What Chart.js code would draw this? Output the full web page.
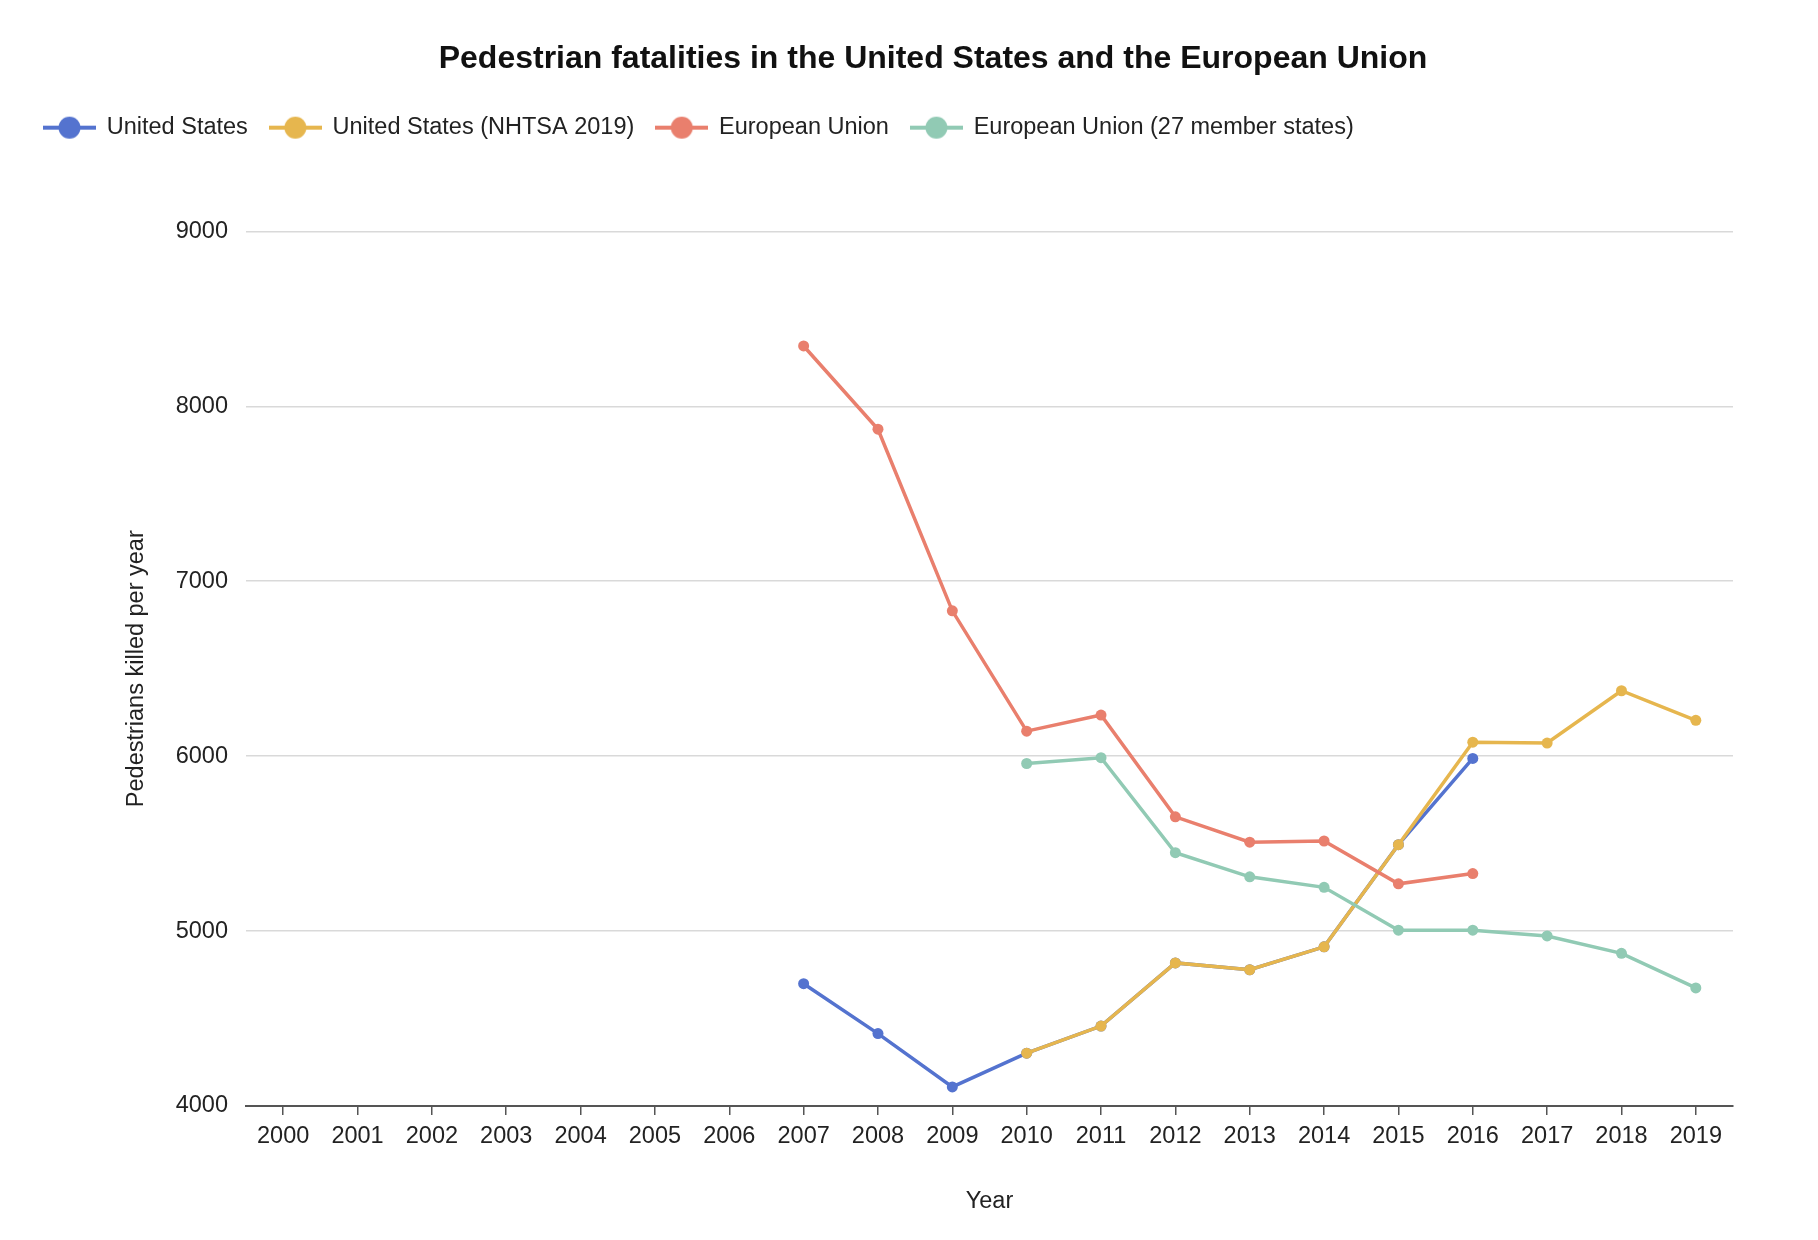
<!DOCTYPE html>
<html>
<head>
<meta charset="utf-8">
<title>Pedestrian fatalities</title>
<script src="https://cdn.jsdelivr.net/npm/chart.js@4"></script>
<style>
  html, body { margin: 0; padding: 0; background: #fff; }
  #wrap { width: 1818px; height: 1240px; position: relative; }
</style>
</head>
<body>
<div id="wrap"><canvas id="chart"></canvas></div>
<script>
const years = ['2000', '2001', '2002', '2003', '2004', '2005', '2006', '2007', '2008', '2009',
  '2010', '2011', '2012', '2013', '2014', '2015', '2016', '2017', '2018', '2019'];

const unitedStates = [null, null, null, null, null, null, null,
  4699, 4414, 4109, 4302, 4457, 4818, 4779, 4910, 5494, 5987, null, null, null];
const unitedStatesNhtsa = [null, null, null, null, null, null, null, null, null, null,
  4302, 4457, 4818, 4779, 4910, 5494, 6080, 6075, 6374, 6205];
const europeanUnion = [null, null, null, null, null, null, null,
  8345, 7869, 6831, 6143, 6235, 5653, 5508, 5515, 5270, 5329, null, null, null];
const europeanUnion27 = [null, null, null, null, null, null, null, null, null, null,
  5958, 5991, 5448, 5310, 5250, 5005, 5005, 4972, 4873, 4675];

const yTicks = { min: 4000, max: 9000, step: 1000 };

const colors = ['#5473cf', '#e6b64e', '#e97f6d', '#91cab4'];
const font = "'Liberation Sans', Arial, Helvetica, sans-serif";

// legend marker: short line with a dot in the middle
function legendMarker(color) {
  const c = document.createElement('canvas');
  c.width = 53;
  c.height = 24;
  const g = c.getContext('2d');
  g.strokeStyle = color;
  g.lineWidth = 4;
  g.beginPath();
  g.moveTo(0, 12);
  g.lineTo(53, 12);
  g.stroke();
  g.fillStyle = color;
  g.beginPath();
  g.arc(26.5, 12, 11, 0, Math.PI * 2);
  g.fill();
  return c;
}
const markers = colors.map(legendMarker);

function series(label, data, color, order) {
  return {
    label: label,
    data: data,
    borderColor: color,
    backgroundColor: color,
    pointBackgroundColor: color,
    borderWidth: 3.5,
    pointRadius: 5.5,
    pointBorderWidth: 0,
    pointHoverRadius: 6,
    tension: 0,
    order: order
  };
}

// extra room between the legend and the plot
const legendGap = {
  id: 'legendGap',
  beforeInit(chart) {
    const fit = chart.legend.fit;
    chart.legend.fit = function () {
      fit.call(this);
      this.height += 82;
    };
  }
};

const ctx = document.getElementById('chart').getContext('2d');
new Chart(ctx, {
  type: 'line',
  data: {
    labels: years,
    datasets: [
      series('United States', unitedStates, colors[0], 4),
      series('United States (NHTSA 2019)', unitedStatesNhtsa, colors[1], 3),
      series('European Union', europeanUnion, colors[2], 2),
      series('European Union (27 member states)', europeanUnion27, colors[3], 1)
    ]
  },
  options: {
    responsive: true,
    maintainAspectRatio: false,
    animation: false,
    layout: { padding: { left: 22, right: -26, top: 0, bottom: 0 } },
    plugins: {
      title: {
        display: true,
        text: 'Pedestrian fatalities in the United States and the European Union',
        color: '#111',
        font: { family: font, size: 32, weight: 'bold' },
        padding: { top: 39.5, bottom: 16 }
      },
      legend: {
        position: 'top',
        align: 'start',
        labels: {
          usePointStyle: true,
          pointStyleWidth: 51,
          padding: 22,
          color: '#222',
          font: { family: font, size: 23.5 },
          generateLabels(chart) {
            const items = Chart.defaults.plugins.legend.labels.generateLabels(chart);
            items.forEach(it => { it.pointStyle = markers[it.datasetIndex]; });
            return items.sort((a, b) => a.datasetIndex - b.datasetIndex);
          }
        }
      },
      tooltip: { enabled: true }
    },
    scales: {
      x: {
        offset: true,
        grid: { display: true, drawOnChartArea: false, tickLength: 9, color: '#555', lineWidth: 1.5 },
        border: { display: true, color: '#555', width: 2 },
        ticks: {
          color: '#222',
          padding: 7,
          autoSkip: false,
          maxRotation: 0,
          font: { family: font, size: 23.5 }
        },
        title: {
          display: true,
          text: 'Year',
          color: '#222',
          font: { family: font, size: 23.5 },
          padding: { top: 4, bottom: 24.5 }
        },
        afterFit(scale) { scale.height = 134; }
      },
      y: {
        min: yTicks.min,
        max: yTicks.max,
        grid: { color: '#d9d9d9', lineWidth: 1.5, drawTicks: false },
        border: { display: false },
        ticks: {
          stepSize: yTicks.step,
          color: '#222',
          padding: 18,
          font: { family: font, size: 23.5 },
          callback: (value) => String(value)
        },
        title: {
          display: true,
          text: 'Pedestrians killed per year',
          color: '#222',
          font: { family: font, size: 23.5 },
          padding: { top: 100, bottom: 4 }
        },
        afterFit(scale) { scale.width = 224; }
      },
      yRight: {
        axis: 'y',
        position: 'right',
        display: true,
        grid: { display: false },
        border: { display: false },
        ticks: { display: false },
        afterFit(scale) { scale.width = 111; }
      }
    }
  },
  plugins: [legendGap]
});
</script>
</body>
</html>
